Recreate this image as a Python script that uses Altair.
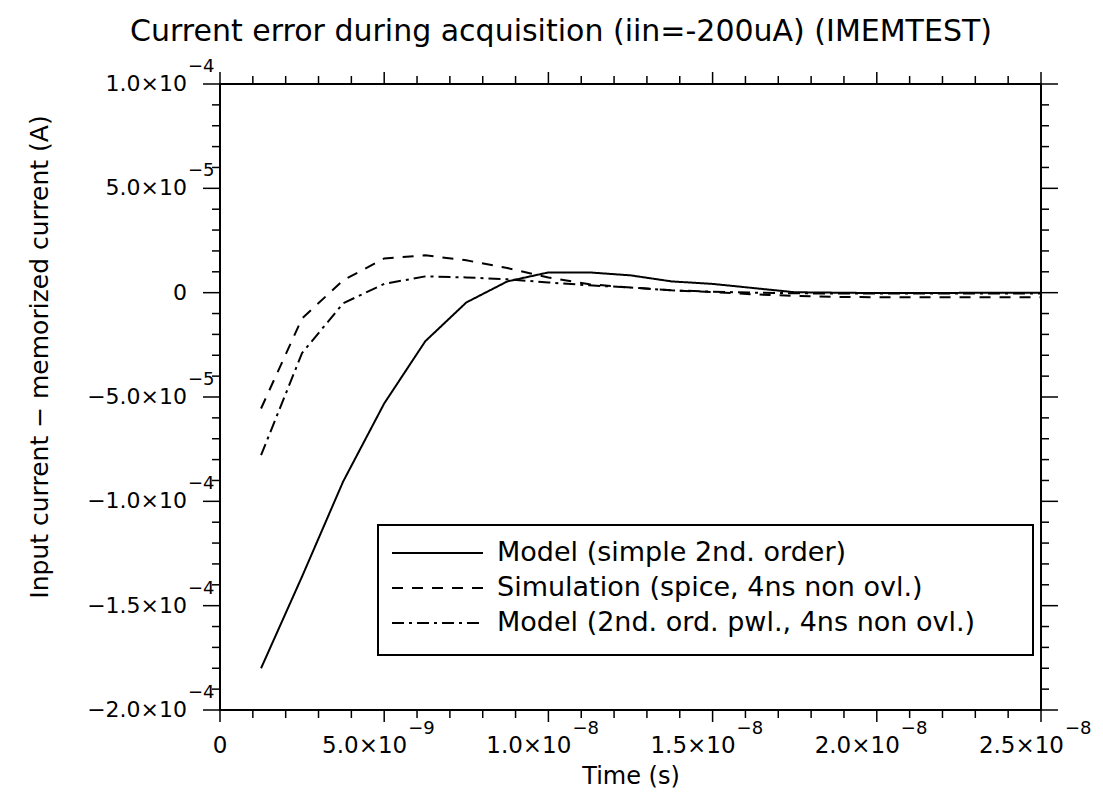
import altair as alt
import pandas as pd

# ---------------- data ----------------
title_text = "Current error during acquisition (iin=-200uA) (IMEMTEST)"
x_title = "Time (s)"
y_title = "Input current − memorized current (A)"

series_names = [
    "Model (simple 2nd. order)",
    "Simulation (spice, 4ns non ovl.)",
    "Model (2nd. ord. pwl., 4ns non ovl.)",
]

time_s = [1.25e-9, 2.5e-9, 3.75e-9, 5.0e-9, 6.25e-9, 7.5e-9, 8.75e-9, 10.0e-9,
          11.25e-9, 12.5e-9, 13.75e-9, 15.0e-9, 16.25e-9, 17.5e-9, 18.75e-9,
          20.0e-9, 21.25e-9, 22.5e-9, 23.75e-9, 25.0e-9]

model_simple = [-1.80e-4, -1.36e-4, -9.05e-5, -5.31e-5, -2.33e-5, -4.7e-6, 5.4e-6,
                9.7e-6, 9.7e-6, 8.3e-6, 5.4e-6, 4.2e-6, 2.2e-6, 2.0e-7, 0.0,
                -2.0e-7, -2.0e-7, -1.0e-7, 0.0, 0.0]

simulation = [-5.55e-5, -1.23e-5, 5.9e-6, 1.64e-5, 1.79e-5, 1.55e-5, 1.18e-5,
              7.3e-6, 4.0e-6, 2.5e-6, 1.1e-6, 3.0e-7, -8.0e-7, -1.5e-6, -2.0e-6,
              -2.2e-6, -2.2e-6, -2.2e-6, -2.2e-6, -2.2e-6]

model_pwl = [-7.79e-5, -2.89e-5, -5.1e-6, 4.2e-6, 7.8e-6, 7.3e-6, 6.4e-6, 4.9e-6,
             3.5e-6, 2.5e-6, 1.1e-6, 5.0e-7, 0.0, -3.0e-7, -4.0e-7, -4.0e-7,
             -4.0e-7, -4.0e-7, -4.0e-7, -4.0e-7]

y_major = [1.0e-4, 5.0e-5, 0.0, -5.0e-5, -1.0e-4, -1.5e-4, -2.0e-4]
y_base = ["1.0×10", "5.0×10", "0", "−5.0×10", "−1.0×10", "−1.5×10", "−2.0×10"]
y_exp = ["−4", "−5", "", "−5", "−4", "−4", "−4"]

x_major = [0.0, 5.0e-9, 1.0e-8, 1.5e-8, 2.0e-8, 2.5e-8]
x_base = ["0", "5.0×10", "1.0×10", "1.5×10", "2.0×10", "2.5×10"]
x_exp = ["", "−9", "−8", "−8", "−8", "−8"]

y_minor = [k * 1e-5 for k in range(-20, 11) if k % 5 != 0]
x_minor = [k * 1e-9 for k in range(0, 26) if k % 5 != 0]

dash_patterns = [[1, 0], [11, 9], [12, 5, 3, 5]]

# ---------------- layout ----------------
W, H = 821, 626
FONT = "DejaVu Sans"
xs = alt.Scale(domain=[0, 2.5e-8], nice=False, zero=False)
ys = alt.Scale(domain=[-2e-4, 1e-4], nice=False, zero=False)

rows = []
for name, vals in zip(series_names, [model_simple, simulation, model_pwl]):
    for t, v in zip(time_s, vals):
        rows.append({"series": name, "t": t, "v": v})
df = pd.DataFrame(rows)

lines = alt.Chart(df).mark_line(color="black", strokeWidth=2).encode(
    x=alt.X("t:Q", scale=xs, axis=None),
    y=alt.Y("v:Q", scale=ys, axis=None),
    strokeDash=alt.StrokeDash("series:N",
                              scale=alt.Scale(domain=series_names, range=dash_patterns),
                              legend=None),
    detail="series:N",
)


def yticks(vals, x1, x2):
    return alt.Chart(pd.DataFrame({"v": vals})).mark_rule(color="black", strokeWidth=1.5).encode(
        y=alt.Y("v:Q", scale=ys, axis=None), x=alt.value(x1), x2=alt.value(x2))


def xticks(vals, y1, y2):
    return alt.Chart(pd.DataFrame({"t": vals})).mark_rule(color="black", strokeWidth=1.5).encode(
        x=alt.X("t:Q", scale=xs, axis=None), y=alt.value(y1), y2=alt.value(y2))


ticks = [
    yticks(y_major, -17, 0), yticks(y_minor, -8, 0),
    yticks(y_major, W, W + 17), yticks(y_minor, W, W + 8),
    xticks(x_major, H, H + 12), xticks(x_minor, H, H + 8),
    xticks(x_major, -12, 0), xticks(x_minor, -8, 0),
]

ylab_df = pd.DataFrame({"v": y_major, "base": y_base, "exp": y_exp})
ylab_base = alt.Chart(ylab_df).mark_text(font=FONT, fontSize=22, align="right",
                                         baseline="middle", color="black").encode(
    y=alt.Y("v:Q", scale=ys, axis=None), x=alt.value(-33), text="base:N")
ylab_exp = alt.Chart(ylab_df).mark_text(font=FONT, fontSize=18, align="left",
                                        baseline="middle", color="black", dy=-17).encode(
    y=alt.Y("v:Q", scale=ys, axis=None), x=alt.value(-32), text="exp:N")

xlab_df = pd.DataFrame({"t": x_major, "base": x_base, "exp": x_exp})
xlab_zero = alt.Chart(xlab_df).transform_filter("datum.exp == ''").mark_text(
    font=FONT, fontSize=23, align="center", baseline="middle", color="black").encode(
    x=alt.X("t:Q", scale=xs, axis=None), y=alt.value(H + 36), text="base:N")
xlab_base = alt.Chart(xlab_df).transform_filter("datum.exp != ''").mark_text(
    font=FONT, fontSize=23, align="right", baseline="middle", color="black", dx=23).encode(
    x=alt.X("t:Q", scale=xs, axis=None), y=alt.value(H + 36), text="base:N")
xlab_exp = alt.Chart(xlab_df).transform_filter("datum.exp != ''").mark_text(
    font=FONT, fontSize=18, align="left", baseline="middle", color="black", dx=24).encode(
    x=alt.X("t:Q", scale=xs, axis=None), y=alt.value(H + 19), text="exp:N")

one = alt.Data(values=[{"k": 1}])
title = alt.Chart(alt.Data(values=[{"txt": title_text}])).mark_text(
    font=FONT, fontSize=30, align="center", baseline="middle", color="black").encode(
    x=alt.value(341), y=alt.value(-52), text="txt:N")
xtitle = alt.Chart(alt.Data(values=[{"txt": x_title}])).mark_text(
    font=FONT, fontSize=24, align="center", baseline="middle", color="black").encode(
    x=alt.value(411), y=alt.value(H + 67), text="txt:N")
ytitle = alt.Chart(alt.Data(values=[{"txt": y_title}])).mark_text(
    font=FONT, fontSize=25, align="center", baseline="middle", color="black", angle=270).encode(
    x=alt.value(-180), y=alt.value(273), text="txt:N")

legend_box = alt.Chart(one).mark_rect(fill="white", stroke="black", strokeWidth=2).encode(
    x=alt.value(158), x2=alt.value(813), y=alt.value(441), y2=alt.value(571))
legend_layers = [legend_box]
for i, name in enumerate(series_names):
    yy = 469 + 35 * i
    d = alt.Data(values=[{"label": name}])
    legend_layers.append(alt.Chart(d).mark_rule(color="black", strokeWidth=2,
                                                strokeDash=dash_patterns[i]).encode(
        x=alt.value(172), x2=alt.value(263), y=alt.value(yy)))
    legend_layers.append(alt.Chart(d).mark_text(font=FONT, fontSize=27, align="left",
                                                baseline="middle", color="black").encode(
        x=alt.value(277), y=alt.value(yy), text="label:N"))

chart = alt.layer(
    lines, *ticks, ylab_base, ylab_exp, xlab_zero, xlab_base, xlab_exp,
    title, xtitle, ytitle, *legend_layers,
).properties(
    width=W, height=H,
    padding={"left": 212, "top": 76, "right": 54, "bottom": 86},
    autosize=alt.AutoSizeParams(type="none"),
).configure_view(stroke="black", strokeWidth=2)

chart.save("out.html", embed_options={"renderer": "svg", "actions": False})
